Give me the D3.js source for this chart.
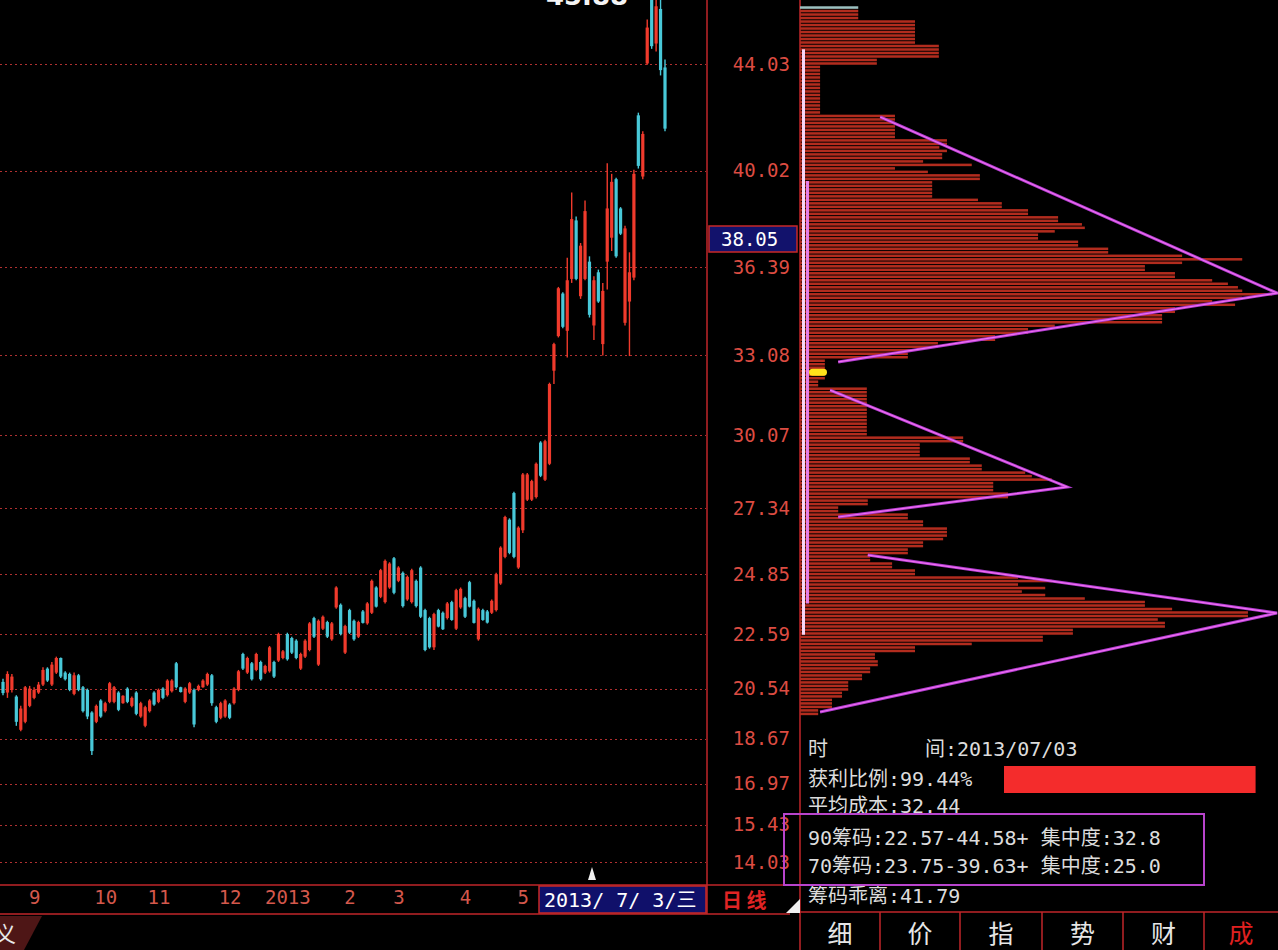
<!doctype html>
<html lang="zh">
<head>
    <meta charset="UTF-8">
    <script src="https://cdnjs.cloudflare.com/ajax/libs/d3/7.8.5/d3.min.js"></script>
    <title>筹码分布</title>
    <style>
        html, body { margin: 0; padding: 0; background: #000; }
        svg { display: block; }
    </style>
</head>
<body>

<div id="viz_area"></div>

<script>
    const W = 1278, H = 950;
    const MONO = '"DejaVu Sans Mono", "Noto Sans CJK SC", monospace';

    // price ticks on the right axis
    const priceTicks = [44.03, 40.02, 36.39, 33.08, 30.07, 27.34, 24.85, 22.59, 20.54, 18.67, 16.97, 15.43, 14.03];

    // month labels and the candle where each month starts
    const monthLabels = ['9', '10', '11', '12', '2013', '2', '3', '4', '5'];
    const monthIdx = [7, 23, 35, 51, 64, 78, 89, 104, 117];

    // daily candles: [open, high, low, close]
    const ohlc = [
        [20.80, 20.92, 20.30, 20.38], [20.40, 21.20, 20.20, 21.10], [20.50, 21.10, 20.40, 21.00], [20.25, 20.30, 19.15, 19.30],
        [19.00, 19.90, 18.95, 19.80], [19.30, 20.65, 19.25, 20.60], [19.90, 20.65, 19.85, 20.55], [20.20, 20.60, 20.15, 20.50],
        [20.40, 20.80, 20.35, 20.70], [20.70, 21.35, 20.65, 21.25], [21.30, 21.35, 20.80, 20.85], [20.70, 21.55, 20.65, 21.45],
        [21.15, 21.75, 21.10, 21.70], [21.70, 21.72, 20.95, 21.00], [21.15, 21.20, 20.85, 20.90], [21.10, 21.15, 20.45, 20.50],
        [20.35, 21.15, 20.30, 21.05], [21.05, 21.10, 20.45, 20.50], [20.60, 20.65, 19.65, 19.70], [20.50, 20.55, 19.40, 19.50],
        [19.65, 19.70, 18.05, 18.20], [19.30, 19.95, 19.25, 19.90], [20.10, 20.15, 19.45, 19.50], [19.70, 20.05, 19.65, 20.00],
        [20.05, 20.80, 20.00, 20.75], [20.05, 20.65, 20.00, 20.60], [20.40, 20.45, 19.70, 19.75], [20.00, 20.30, 19.98, 20.28],
        [20.55, 20.60, 20.00, 20.05], [19.90, 20.25, 19.85, 20.20], [20.40, 20.45, 19.55, 19.60], [19.50, 20.05, 19.45, 20.00],
        [19.15, 19.90, 19.10, 19.85], [19.70, 20.15, 19.65, 20.10], [20.40, 20.45, 19.90, 19.95], [20.05, 20.55, 20.00, 20.50],
        [20.55, 20.60, 20.15, 20.20], [20.30, 20.90, 20.25, 20.85], [20.45, 20.90, 20.40, 20.85], [21.50, 21.55, 20.55, 20.60],
        [20.60, 20.62, 20.40, 20.42], [20.05, 20.60, 20.00, 20.55], [20.40, 20.80, 20.35, 20.75], [20.50, 20.55, 19.10, 19.20],
        [20.50, 20.70, 20.45, 20.65], [20.60, 20.90, 20.58, 20.85], [20.70, 21.15, 20.65, 21.10], [21.05, 21.10, 19.90, 20.00],
        [19.85, 19.90, 19.25, 19.30], [19.45, 20.05, 19.40, 20.00], [19.50, 20.15, 19.45, 20.10], [19.95, 20.00, 19.40, 19.45],
        [20.00, 20.60, 19.95, 20.55], [20.50, 21.25, 20.45, 21.20], [21.85, 21.90, 21.25, 21.30], [21.15, 21.75, 21.10, 21.70],
        [21.50, 21.55, 20.85, 20.90], [21.25, 21.90, 21.20, 21.85], [21.55, 21.60, 20.85, 20.90], [21.15, 21.45, 21.10, 21.40],
        [21.20, 22.15, 21.15, 22.10], [21.55, 21.60, 20.95, 21.00], [21.60, 22.65, 21.55, 22.60], [21.70, 22.00, 21.65, 21.95],
        [22.60, 22.65, 21.60, 21.65], [22.45, 22.50, 21.85, 21.90], [22.35, 22.40, 21.65, 21.70], [21.30, 21.90, 21.25, 21.85],
        [21.75, 22.40, 21.70, 22.35], [22.00, 23.05, 21.95, 23.00], [23.20, 23.25, 22.45, 22.50], [21.45, 23.15, 21.40, 23.10],
        [22.80, 23.30, 22.75, 23.25], [23.05, 23.10, 22.45, 22.50], [22.40, 23.05, 22.35, 23.00], [23.60, 24.40, 23.55, 24.35],
        [23.70, 23.75, 22.55, 22.60], [21.90, 22.95, 21.85, 22.90], [23.50, 23.55, 22.60, 22.65], [23.10, 23.15, 22.35, 22.40],
        [22.50, 23.10, 22.45, 23.05], [23.45, 23.50, 23.00, 23.02], [23.00, 23.80, 22.95, 23.75], [23.40, 24.65, 23.35, 24.60],
        [24.35, 24.40, 23.60, 23.63], [24.00, 25.05, 23.95, 25.00], [23.80, 25.40, 23.75, 25.35], [24.35, 25.30, 24.30, 25.25],
        [25.45, 25.50, 24.10, 24.15], [24.60, 25.15, 24.55, 25.10], [24.90, 24.95, 23.60, 23.65], [23.90, 24.80, 23.85, 24.75],
        [23.80, 25.05, 23.75, 25.00], [24.60, 24.65, 23.60, 23.65], [25.10, 25.15, 23.20, 23.25], [23.50, 23.55, 21.95, 22.00],
        [23.20, 23.25, 22.05, 22.10], [22.10, 23.40, 22.00, 23.35], [23.50, 23.55, 22.85, 22.88], [23.40, 23.45, 22.75, 22.78],
        [23.20, 23.80, 23.15, 23.75], [23.80, 23.85, 23.10, 23.13], [22.80, 24.30, 22.75, 24.25], [23.60, 24.35, 23.55, 24.30],
        [23.95, 24.00, 23.20, 23.25], [24.55, 24.60, 23.60, 23.63], [23.85, 23.90, 23.00, 23.02], [22.40, 23.60, 22.35, 23.55],
        [23.50, 23.55, 23.10, 23.13], [23.45, 23.50, 23.00, 23.03], [23.40, 23.90, 23.35, 23.85], [23.50, 24.90, 23.45, 24.85],
        [24.50, 25.90, 24.45, 25.85], [25.50, 27.05, 25.45, 27.00], [26.90, 26.95, 25.60, 25.65], [27.90, 27.95, 25.45, 25.50],
        [25.10, 26.65, 25.05, 26.60], [26.50, 28.65, 26.40, 28.60], [27.65, 28.65, 27.60, 28.60], [27.65, 28.40, 27.60, 28.35],
        [27.75, 29.05, 27.70, 29.00], [29.80, 29.85, 28.50, 28.55], [28.40, 29.90, 28.35, 29.85], [29.00, 32.05, 28.95, 32.00],
        [32.50, 33.55, 32.00, 33.50], [33.80, 35.65, 33.75, 35.60], [35.40, 35.45, 34.10, 34.15], [34.00, 36.75, 33.00, 35.90],
        [35.95, 39.20, 35.80, 38.20], [38.15, 38.30, 35.90, 35.95], [35.30, 37.30, 35.20, 37.20], [35.95, 38.90, 35.90, 38.50],
        [36.60, 36.80, 34.50, 34.60], [34.20, 36.05, 33.65, 35.90], [36.20, 36.30, 35.05, 35.10], [33.50, 35.80, 33.07, 35.50],
        [36.60, 40.30, 35.55, 38.60], [37.50, 39.90, 37.00, 39.60], [39.70, 39.75, 36.75, 36.80], [38.60, 38.65, 37.60, 37.65],
        [34.30, 37.95, 34.20, 37.85], [35.10, 36.95, 33.05, 36.20], [36.00, 40.05, 35.90, 39.90], [42.10, 42.20, 40.10, 40.20],
        [39.80, 41.50, 39.70, 41.40], [44.05, 45.70, 44.00, 45.40], [46.50, 46.60, 44.60, 44.70], [44.80, 46.60, 44.50, 46.20],
        [46.10, 46.50, 43.60, 43.80], [43.90, 44.20, 41.50, 41.60]
    ];
    const topMark = '45.88';
    const cursorPrice = '38.05';
    const cursorDate = '2013/ 7/ 3/三';

    // chip distribution, one row per price step from chipHi down to chipLo (share of the biggest row, %)
    const chipHi = 46.2, chipLo = 19.55;
    const chipAmt = [
        12.0, 12.0, 12.0, 12.0, 23.9, 23.9, 23.9, 23.9, 23.9, 23.9,
        23.9, 28.9, 28.9, 28.9, 28.9, 15.9, 15.9, 4.0, 4.0, 4.0,
        4.0, 4.0, 4.0, 4.0, 4.0, 4.0, 4.0, 4.0, 4.0, 4.0,
        4.0, 19.7, 19.7, 19.7, 19.7, 19.7, 19.7, 19.7, 30.6, 30.6,
        29.0, 30.6, 29.6, 29.6, 25.6, 35.8, 19.7, 26.6, 37.5, 37.5,
        27.5, 27.5, 27.5, 27.5, 27.5, 37.1, 42.1, 42.1, 47.6, 47.6,
        53.9, 53.9, 58.9, 59.5, 53.2, 49.7, 49.7, 58.1, 58.1, 64.4,
        64.4, 79.9, 92.5, 79.9, 72.1, 72.1, 78.4, 78.4, 86.2, 89.5,
        91.6, 92.5, 98.7, 92.5, 86.2, 91.0, 78.4, 78.4, 75.7, 75.7,
        75.7, 53.2, 47.6, 47.6, 40.7, 40.7, 28.7, 28.7, 23.3, 22.4,
        22.4, 5.0, 5.0, 5.0, 5.0, 5.0, 5.0, 3.6, 3.6, 13.8,
        13.8, 13.8, 13.8, 13.8, 13.8, 13.8, 13.8, 13.8, 13.8, 13.8,
        13.8, 13.8, 13.8, 34.0, 34.0, 24.9, 24.9, 24.9, 24.9, 35.4,
        35.4, 37.9, 37.9, 47.0, 48.4, 52.6, 40.3, 40.3, 40.3, 43.4,
        43.4, 14.0, 14.0, 7.8, 7.8, 22.4, 22.4, 25.6, 25.6, 30.6,
        30.6, 30.6, 29.8, 25.6, 25.6, 22.4, 22.4, 14.5, 14.5, 19.1,
        19.1, 23.9, 23.9, 45.5, 52.6, 45.5, 51.2, 46.3, 51.2, 59.5,
        72.1, 72.1, 77.8, 93.7, 93.7, 74.8, 76.3, 76.3, 57.0, 57.0,
        50.7, 50.7, 35.8, 23.9, 23.9, 15.5, 15.5, 16.1, 16.1, 14.5,
        14.5, 12.8, 12.8, 9.9, 9.9, 9.9, 8.6, 8.6, 6.5, 6.5,
        6.5, 3.6, 3.6
    ];
    const lossLine = 46.05;   // chips above this price are trapped

    // chip peak outlines: top corner, apex, bottom corner (price, share %)
    const peakTop = [42.04, 31.77, 25.57], peakTopAmt = [16.6, 6.1, 14.0];
    const peakApex = [35.42, 28.13, 23.39], peakApexAmt = [99.8, 55.8, 99.8];
    const peakBot = [32.83, 27.00, 19.67], peakBotAmt = [7.8, 7.8, 4.0];

    // info block
    const infoDate = '2013/07/03';
    const profitRatio = 99.44;
    const avgCost = 32.44;
    const chip90 = [22.57, 44.58], conc90 = 32.8;
    const chip70 = [23.75, 39.63], conc70 = 25.0;
    const chipBias = 41.79;
    const tabLabels = ['细', '价', '指', '势', '财', '成'];
    const tabEdges = [800, 880, 960, 1042, 1123, 1204, 1278];

    const upColor = '#f03a2c', downColor = '#48c8d8', gridRed = '#b03030', lineRed = '#c0262a';

    const svg = d3.select('#viz_area')
        .append('svg')
        .attr('width', W)
        .attr('height', H);

    svg.append('rect').attr('width', W).attr('height', H).attr('fill', '#000');

    const yPrice = d3.scaleLinear().domain([14.03, 44.03]).range([862, 64]);
    const xDay = d3.scaleLinear().domain([0, ohlc.length - 1]).range([3, 665]);
    const xChip = d3.scaleLinear().domain([0, 100]).range([801, 1278]);
    const yChip = d3.scaleBand()
        .domain(d3.range(chipAmt.length))
        .range([yPrice(chipHi), yPrice(chipLo)])
        .paddingInner(0.28);

    svg.append('defs').append('clipPath').attr('id', 'main-clip')
        .append('rect').attr('x', 0).attr('y', 0).attr('width', 706).attr('height', 884);

    // dotted grid
    svg.append('g')
        .selectAll('line')
        .data(priceTicks)
        .join('line')
        .attr('x1', 0)
        .attr('x2', 706)
        .attr('y1', d => Math.round(yPrice(d)) + 0.5)
        .attr('y2', d => Math.round(yPrice(d)) + 0.5)
        .attr('stroke', gridRed)
        .attr('stroke-width', 1)
        .attr('stroke-dasharray', '2 3');

    // candles
    const candles = svg.append('g').attr('clip-path', 'url(#main-clip)');
    const isUp = d => d[3] >= d[0];

    candles.selectAll('line')
        .data(ohlc)
        .join('line')
        .attr('x1', (d, i) => xDay(i))
        .attr('x2', (d, i) => xDay(i))
        .attr('y1', d => yPrice(d[1]))
        .attr('y2', d => yPrice(d[2]))
        .attr('stroke', d => isUp(d) ? upColor : downColor)
        .attr('stroke-width', 1.4);

    candles.selectAll('rect')
        .data(ohlc)
        .join('rect')
        .attr('x', (d, i) => xDay(i) - 1.6)
        .attr('width', 3.2)
        .attr('y', d => yPrice(Math.max(d[0], d[3])))
        .attr('height', d => Math.max(1.2, Math.abs(yPrice(d[0]) - yPrice(d[3]))))
        .attr('fill', d => isUp(d) ? upColor : downColor);

    // max price mark at the top (mostly cut off, as in the source)
    svg.append('text')
        .attr('x', 587).attr('y', 5)
        .attr('text-anchor', 'middle')
        .attr('fill', '#f4f4f4')
        .attr('font-family', '"DejaVu Sans", sans-serif')
        .attr('font-weight', 'bold')
        .attr('font-size', 26)
        .text(topMark);

    // frame lines
    const frame = svg.append('g').attr('stroke', lineRed).attr('stroke-width', 1.5);
    frame.append('line').attr('x1', 707).attr('x2', 707).attr('y1', 0).attr('y2', 914);
    frame.append('line').attr('x1', 800).attr('x2', 800).attr('y1', 0).attr('y2', 950);
    frame.append('line').attr('x1', 0).attr('x2', 800).attr('y1', 885).attr('y2', 885);
    frame.append('line').attr('x1', 0).attr('x2', 790).attr('y1', 914).attr('y2', 914);

    // price axis
    const yAxis = d3.axisLeft(yPrice)
        .tickValues(priceTicks)
        .tickFormat(d3.format('.2f'))
        .tickSize(0)
        .tickPadding(0);

    const gy = svg.append('g')
        .attr('transform', 'translate(790,0)')
        .call(yAxis);
    gy.select('.domain').remove();
    gy.selectAll('text')
        .attr('fill', '#dc4c42')
        .attr('font-family', MONO)
        .attr('font-size', 19);

    // cursor price box
    svg.append('rect')
        .attr('x', 709).attr('y', 226).attr('width', 88).attr('height', 26)
        .attr('fill', '#12126c').attr('stroke', '#c82828').attr('stroke-width', 1.5);
    svg.append('text')
        .attr('x', 721).attr('y', 246)
        .attr('fill', '#ffffff')
        .attr('font-family', MONO)
        .attr('font-size', 19)
        .text(cursorPrice);

    // month axis
    const xAxis = d3.axisBottom(xDay)
        .tickValues(monthIdx)
        .tickFormat((d, i) => monthLabels[i])
        .tickSize(0)
        .tickPadding(0);

    const gx = svg.append('g')
        .attr('transform', 'translate(0,890)')
        .call(xAxis);
    gx.select('.domain').remove();
    gx.selectAll('text')
        .attr('fill', '#d4584c')
        .attr('font-family', MONO)
        .attr('font-size', 19);

    // date box of the cursor day
    svg.append('rect')
        .attr('x', 539).attr('y', 886).attr('width', 167).attr('height', 27)
        .attr('fill', '#10106a').attr('stroke', '#c82828').attr('stroke-width', 1.5);
    svg.append('text')
        .attr('x', 544).attr('y', 907)
        .attr('fill', '#ffffff')
        .attr('font-family', MONO)
        .attr('font-size', 20)
        .text(cursorDate);

    svg.append('text')
        .attr('x', 722).attr('y', 908)
        .attr('fill', '#e02424')
        .attr('font-family', '"Noto Sans CJK SC", sans-serif')
        .attr('font-weight', 'bold')
        .attr('font-size', 20)
        .text('日 线');

    // cursor marker and corner triangles
    svg.append('path').attr('d', 'M588,880L596,880L592,867Z').attr('fill', '#f0f0f0');
    svg.append('path').attr('d', 'M786,913L800,899L800,913Z').attr('fill', '#f0f0f0');
    svg.append('path').attr('d', 'M0,916L42,916L24,950L0,950Z').attr('fill', '#4e1616');
    svg.append('text')
        .attr('x', -6).attr('y', 942)
        .attr('fill', '#e8e8e8')
        .attr('font-family', '"Noto Sans CJK SC", sans-serif')
        .attr('font-size', 22)
        .text('义');

    // chip bars
    svg.append('g')
        .selectAll('rect')
        .data(chipAmt)
        .join('rect')
        .attr('x', xChip(0) - 1)
        .attr('y', (d, i) => yChip(i))
        .attr('width', d => xChip(d) - xChip(0) + 1)
        .attr('height', yChip.bandwidth())
        .attr('fill', (d, i) => yPrice.invert(yChip(i) + yChip.bandwidth() / 2) > lossLine ? '#9cc0c0' : '#b22c1e');

    // 90% and 70% chip range bars
    svg.append('line')
        .attr('x1', 803.5).attr('x2', 803.5)
        .attr('y1', yPrice(chip90[1])).attr('y2', yPrice(chip90[0]))
        .attr('stroke', '#f6d6f6').attr('stroke-width', 3);
    svg.append('line')
        .attr('x1', 807.5).attr('x2', 807.5)
        .attr('y1', yPrice(chip70[1])).attr('y2', yPrice(chip70[0]))
        .attr('stroke', '#e47ee8').attr('stroke-width', 3);

    // average cost marker
    svg.append('rect')
        .attr('x', 809).attr('y', yPrice(avgCost) - 3.5)
        .attr('width', 18).attr('height', 7).attr('rx', 3.5)
        .attr('fill', '#ffe21a');

    // chip peak outlines
    const peakLine = d3.line().x(d => xChip(d[1])).y(d => yPrice(d[0]));
    const peaks = peakTop.map((p, i) => [
        [p, peakTopAmt[i]],
        [peakApex[i], peakApexAmt[i]],
        [peakBot[i], peakBotAmt[i]]
    ]);
    svg.append('g')
        .selectAll('path')
        .data(peaks)
        .join('path')
        .attr('d', peakLine)
        .attr('fill', 'none')
        .attr('stroke', '#b03ad0')
        .attr('stroke-width', 3);
    svg.append('g')
        .selectAll('path')
        .data(peaks)
        .join('path')
        .attr('d', peakLine)
        .attr('fill', 'none')
        .attr('stroke', '#f070f0')
        .attr('stroke-width', 1.2);

    // info block
    const info = svg.append('g')
        .attr('fill', '#dcdcdc')
        .attr('font-family', MONO)
        .attr('font-size', 20);

    info.append('text').attr('x', 808).attr('y', 756).text('时');
    info.append('text').attr('x', 925).attr('y', 756).text('间:' + infoDate);
    info.append('text').attr('x', 808).attr('y', 786).text('获利比例:' + profitRatio.toFixed(2) + '%');
    info.append('text').attr('x', 808).attr('y', 813).text('平均成本:' + avgCost.toFixed(2));
    info.append('text').attr('x', 808).attr('y', 845)
        .text('90筹码:' + chip90[0].toFixed(2) + '-' + chip90[1].toFixed(2) + '+ 集中度:' + conc90.toFixed(1));
    info.append('text').attr('x', 808).attr('y', 873)
        .text('70筹码:' + chip70[0].toFixed(2) + '-' + chip70[1].toFixed(2) + '+ 集中度:' + conc70.toFixed(1));
    info.append('text').attr('x', 808).attr('y', 903).text('筹码乖离:' + chipBias.toFixed(2));

    const profitScale = d3.scaleLinear().domain([0, 100]).range([0, 253]);
    svg.append('rect')
        .attr('x', 1004).attr('y', 766)
        .attr('width', profitScale(profitRatio)).attr('height', 27)
        .attr('fill', '#f42c2c');

    svg.append('rect')
        .attr('x', 784).attr('y', 814).attr('width', 420).attr('height', 71)
        .attr('fill', 'none').attr('stroke', '#b844cc').attr('stroke-width', 2);

    // bottom tabs
    const tabs = svg.append('g');
    tabs.append('line')
        .attr('x1', 800).attr('x2', 1278).attr('y1', 912).attr('y2', 912)
        .attr('stroke', lineRed).attr('stroke-width', 1.5);
    tabs.selectAll('line.sep')
        .data(tabEdges.slice(1, -1))
        .join('line')
        .attr('class', 'sep')
        .attr('x1', d => d).attr('x2', d => d)
        .attr('y1', 912).attr('y2', 950)
        .attr('stroke', lineRed).attr('stroke-width', 1.5);
    tabs.selectAll('text')
        .data(tabLabels)
        .join('text')
        .attr('x', (d, i) => (tabEdges[i] + tabEdges[i + 1]) / 2)
        .attr('y', 943)
        .attr('text-anchor', 'middle')
        .attr('font-family', '"Noto Sans CJK SC", sans-serif')
        .attr('font-size', 25)
        .attr('fill', (d, i) => i === tabLabels.length - 1 ? '#e02020' : '#e6e6e6')
        .text(d => d);

</script>
</body>
</html>
